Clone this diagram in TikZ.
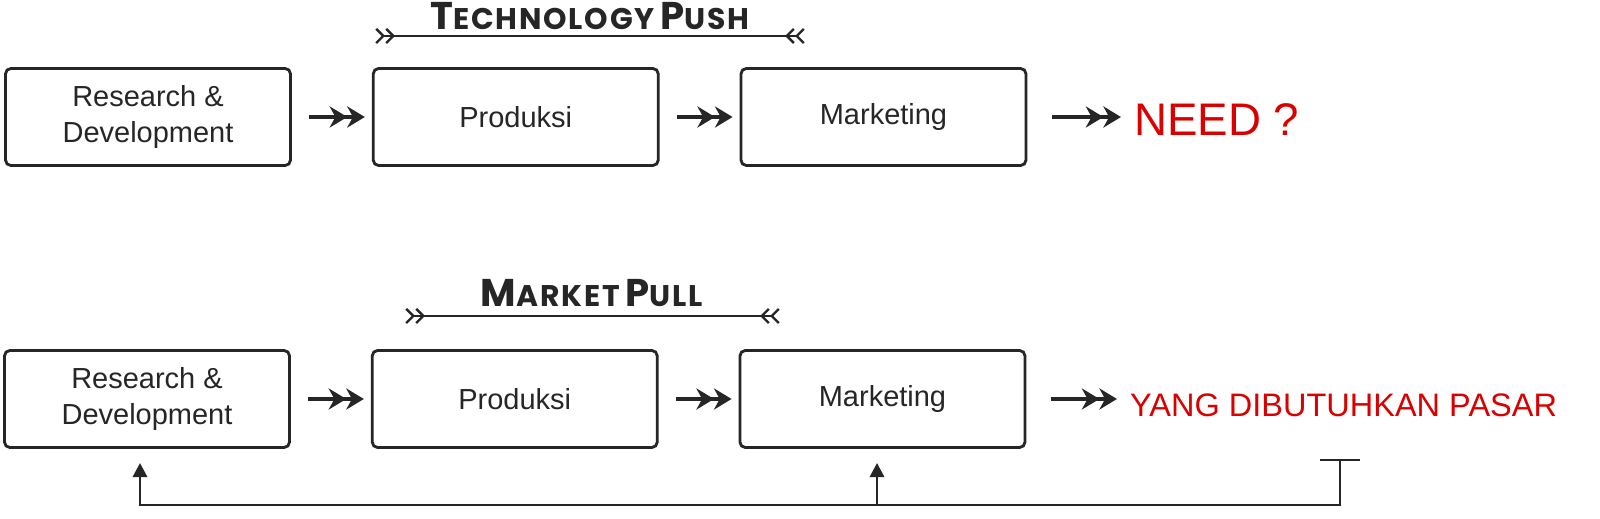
\documentclass[tikz,border=0pt]{standalone}
\usepackage{fontspec}
\setmainfont{Liberation Sans}
\newfontfamily\titlefont{Poppins}[LetterSpace=6]
\usetikzlibrary{arrows.meta,positioning}
\newcommand{\capsTitle}[2]{{\fontsize{22}{24}\selectfont #1}{\fontsize{17}{20}\selectfont #2}}
\tikzset{
  stage/.style={draw=black!85,line width=1.6pt,rounded corners=3pt,minimum width=5.7cm,
    minimum height=1.94cm,align=center,font=\fontsize{16.5}{21}\selectfont,text=black!85},
  push/.style={line width=2.8pt,draw=black!85,-{Stealth[length=10pt,width=12pt]Stealth[length=10pt,width=12pt]}},
  span/.style={line width=1.4pt,draw=black!85,
    {Straight Barb[reversed,length=4pt,width=8pt]Straight Barb[reversed,length=4pt,width=8pt]}-{Straight Barb[reversed,length=4pt,width=8pt]Straight Barb[reversed,length=4pt,width=8pt]}},
  loop/.style={line width=1.6pt,draw=black!85},
  result/.style={text=red!85!black,anchor=west},
  heading/.style={font=\titlefont\bfseries,text=black!85}
}
\begin{document}
\begin{tikzpicture}[x=0.02cm,y=-0.02cm]
% technology push
\node[stage] (rd1) at (148,117) {Research \&\\Development};
\node[stage,right=1.6cm of rd1] (prod1) {Produksi};
\node[stage,right=1.6cm of prod1] (mkt1) {Marketing};
\node[result,font=\fontsize{26}{30}\selectfont] (need) at (1128,120) {NEED ?};
\draw[push] ([xshift=10pt]rd1.east) -- ([xshift=-4pt]prod1.west);
\draw[push] ([xshift=10pt]prod1.east) -- ([xshift=-4pt]mkt1.west);
\draw[push] ([xshift=14pt]mkt1.east) -- ([xshift=-4pt]mkt1.east -| need.west);
\coordinate (tp1) at (375,36);
\coordinate (tp2) at (805,36);
\draw[span] (tp1) -- (tp2);
\node[heading] (tphead) at (590,16) {\capsTitle{T}{ECHNOLOGY}\hspace{0.35em}\capsTitle{P}{USH}};
% market pull
\node[stage] (rd2) at (147,399) {Research \&\\Development};
\node[stage,right=1.6cm of rd2] (prod2) {Produksi};
\node[stage,right=1.6cm of prod2] (mkt2) {Marketing};
\node[result,font=\fontsize{18.5}{22}\selectfont] (pasar) at (1124,405) {YANG DIBUTUHKAN PASAR};
\draw[push] ([xshift=10pt]rd2.east) -- ([xshift=-4pt]prod2.west);
\draw[push] ([xshift=10pt]prod2.east) -- ([xshift=-4pt]mkt2.west);
\draw[push] ([xshift=14pt]mkt2.east) -- ([xshift=-4pt]mkt2.east -| pasar.west);
\coordinate (mp1) at (405,316);
\coordinate (mp2) at (780,316);
\draw[span] (mp1) -- (mp2);
\node[heading] (mphead) at (592,293) {\capsTitle{M}{ARKET}\hspace{0.35em}\capsTitle{P}{ULL}};
% feedback
\coordinate (fb) at (1340,460);
\coordinate (fbl) at (1320,460);
\coordinate (fbr) at (1360,460);
\coordinate (base) at (1340,505);
\coordinate (corner) at (140,505);
\coordinate (branch) at (877,505);
\draw[loop] (fbl) -- (fbr);
\draw[loop,-{Triangle[length=8pt,width=8pt]}] (fb) -- (base) -- (corner) -- ([yshift=-8pt]rd2.south -| corner);
\draw[loop,-{Triangle[length=8pt,width=8pt]}] (branch) -- ([yshift=-8pt]mkt2.south -| branch);
\pgfresetboundingbox
\useasboundingbox (0,0) rectangle (1600,519);
\end{tikzpicture}
\end{document}
